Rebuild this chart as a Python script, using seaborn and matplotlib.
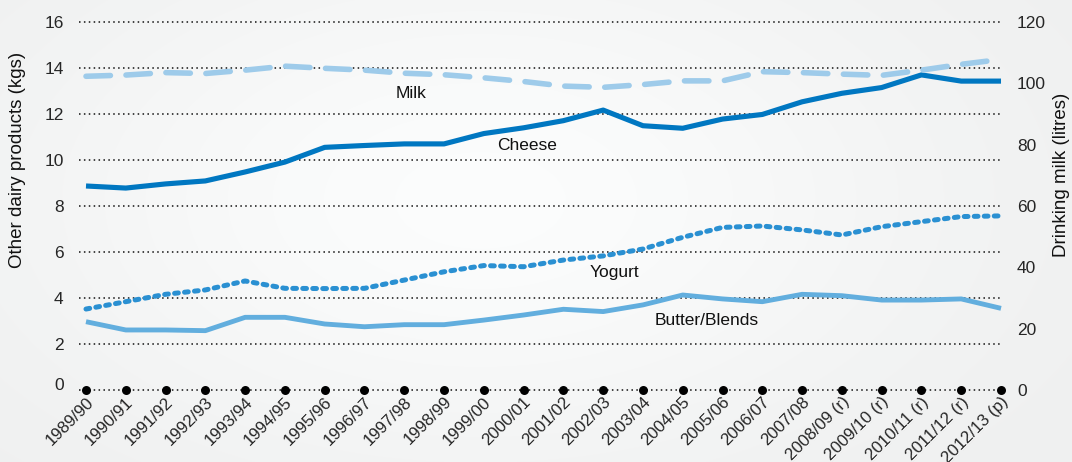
import numpy as np
import matplotlib
matplotlib.use("Agg")
import matplotlib.pyplot as plt
import matplotlib.transforms as mtransforms
import seaborn as sns

# Per-capita consumption, UK, 1989/90 to 2012/13
years = ["1989/90", "1990/91", "1991/92", "1992/93", "1993/94", "1994/95",
         "1995/96", "1996/97", "1997/98", "1998/99", "1999/00", "2000/01",
         "2001/02", "2002/03", "2003/04", "2004/05", "2005/06", "2006/07",
         "2007/08", "2008/09 (r)", "2009/10 (r)", "2010/11 (r)", "2011/12 (r)",
         "2012/13 (p)"]

# Other dairy products, kgs per person (left axis)
cheese = [8.87, 8.78, 8.96, 9.09, 9.48, 9.91, 10.55, 10.63, 10.70, 10.70, 11.15,
          11.40, 11.71, 12.17, 11.49, 11.38, 11.78, 11.98, 12.53, 12.90, 13.15,
          13.70, 13.43, 13.43]
yogurt = [3.52, 3.84, 4.16, 4.35, 4.74, 4.42, 4.41, 4.42, 4.78, 5.14, 5.41,
          5.36, 5.65, 5.83, 6.13, 6.64, 7.07, 7.13, 6.96, 6.74, 7.10, 7.32,
          7.54, 7.57]
butter = [2.97, 2.61, 2.61, 2.58, 3.16, 3.16, 2.87, 2.75, 2.84, 2.84, 3.04,
          3.26, 3.51, 3.41, 3.70, 4.13, 3.96, 3.84, 4.16, 4.10, 3.91, 3.91,
          3.96, 3.55]

# Drinking milk, litres per person (right axis)
milk = [102.3, 102.7, 103.5, 103.2, 104.3, 105.6, 104.9, 104.3, 103.3, 102.8,
        101.8, 100.6, 99.1, 98.7, 99.6, 100.8, 100.8, 103.8, 103.5, 103.0,
        102.6, 104.3, 106.2, 107.8]

left_ticks = [0, 2, 4, 6, 8, 10, 12, 14, 16]
right_ticks = [0, 20, 40, 60, 80, 100, 120]

W, H, DPI = 1072, 462, 100

sns.set_style("white")
plt.rcParams["font.family"] = ["Liberation Sans", "DejaVu Sans"]
plt.rcParams["text.color"] = "#111111"

fig = plt.figure(figsize=(W / DPI, H / DPI), dpi=DPI)

# soft grey backdrop with a pale highlight
bg = fig.add_axes([0, 0, 1, 1], zorder=-10)
gy, gx = np.mgrid[0:H, 0:W]
glow = np.exp(-(((gx - 480) / 460.0) ** 2 + ((gy - 200) / 260.0) ** 2))
shade = 0.938 + 0.052 * glow
bg.imshow(np.dstack([shade * 0.996, shade, shade]), aspect="auto",
          extent=[0, 1, 0, 1], interpolation="bilinear")
bg.set_axis_off()

x0, x1 = 79 / W, 1003 / W
y0, y1 = 1 - 390 / H, 1 - 22 / H
ax = fig.add_axes([x0, y0, x1 - x0, y1 - y0])
ax.set_facecolor("none")
ax2 = ax.twinx()
ax2.set_facecolor("none")

xs = np.arange(len(years))

# dotted horizontal guides
for v in left_ticks:
    ax.axhline(v, color="#111111", lw=1.1, ls=(0, (1, 2.2)), clip_on=False,
               zorder=1)

def styled_line(axis, values, color, lw, dash=None, z=3):
    sns.lineplot(x=xs, y=values, ax=axis, color=color, linewidth=lw,
                 legend=False)
    line = axis.lines[-1]
    line.set_zorder(z)
    line.set_solid_capstyle("butt")
    line.set_solid_joinstyle("round")
    if dash is not None:
        line.set_linestyle((0, dash))
        line.set_dash_capstyle("round")
    return line

styled_line(ax, butter, "#62aede", 3.5)
styled_line(ax, yogurt, "#2a90d2", 3.6, dash=(0.75, 1.25))
styled_line(ax, cheese, "#0077c1", 3.7)
styled_line(ax2, milk, "#9ecbea", 4.0, dash=(4.4, 2.8))

# category markers along the baseline
ax.scatter(xs, np.zeros(len(xs)), s=42, color="#000000", zorder=5,
           clip_on=False, linewidths=0)

ax.set_xlim(-0.176, 23.05)
ax.set_ylim(0, 16)
ax2.set_ylim(0, 120)

ax.set_xticks(xs)
ax.set_xticklabels(years, rotation=45, ha="right", va="center",
                   rotation_mode="anchor", fontsize=12.2)
ax.set_yticks(left_ticks)
ax.set_yticklabels([str(v) for v in left_ticks], fontsize=12.5)
ax2.set_yticks(right_ticks)
ax2.set_yticklabels([str(v) for v in right_ticks], fontsize=12.5)

ax.tick_params(axis="x", length=0, pad=9)
ax.tick_params(axis="y", length=0, pad=11)
ax2.tick_params(axis="y", length=0, pad=10)

shift = mtransforms.ScaledTranslation(5 / DPI, 3 / DPI, fig.dpi_scale_trans)
for lbl in ax.get_xticklabels():
    lbl.set_transform(lbl.get_transform() + shift)

# the baseline label sits a little higher on the left scale
lbl0 = ax.get_yticklabels()[0]
lbl0.set_transform(lbl0.get_transform() +
                   mtransforms.ScaledTranslation(0, 6 / DPI, fig.dpi_scale_trans))

for a in (ax, ax2):
    for s in a.spines.values():
        s.set_visible(False)
    a.grid(False)
ax.set_xlabel("")
ax.set_ylabel("")
ax2.set_ylabel("")

fig.text(18 / W, 1 - 160 / H, "Other dairy products (kgs)", rotation=90,
         ha="center", va="center", fontsize=13.5)
fig.text(1061 / W, 1 - 175 / H, "Drinking milk (litres)", rotation=90,
         ha="center", va="center", fontsize=13.5)

# series names written beside their lines
series_labels = [("Milk", 8.17, 12.91), ("Cheese", 11.08, 10.61),
                 ("Yogurt", 13.27, 5.13), ("Butter/Blends", 15.6, 3.04)]
for name, lx, ly in series_labels:
    ax.text(lx, ly, name, ha="center", va="center", fontsize=12.5, zorder=6)

fig.savefig("out.png", dpi=DPI)
